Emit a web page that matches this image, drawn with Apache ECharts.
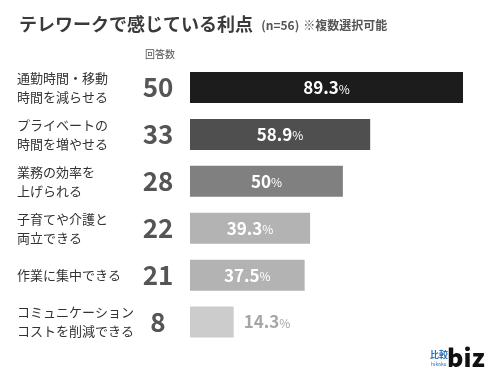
<!DOCTYPE html>
<html><head><meta charset="utf-8">
<script src="https://cdn.jsdelivr.net/npm/echarts@6/dist/echarts.min.js"></script>
<style>html,body{margin:0;padding:0;background:#fff}#c{width:490px;height:380px}</style>
</head><body><div id="c"></div>
<script>
const categories = ['通勤時間・移動\n時間を減らせる','プライベートの\n時間を増やせる','業務の効率を\n上げられる','子育てや介護と\n両立できる','作業に集中できる','コミュニケーション\nコストを削減できる'];
const counts = [50, 33, 28, 22, 21, 8];
const percents = ['89.3', '58.9', '50', '39.3', '37.5', '14.3'];
const barColors = ['#1c1c1c', '#4f4f4f', '#808080', '#b3b3b3', '#b3b3b3', '#cccccc'];
const FONT = '"Noto Sans CJK JP", "Noto Sans", sans-serif';

const chart = echarts.init(document.getElementById('c'), null, {renderer:'canvas'});
chart.setOption({
  animation: false,
  textStyle: {fontFamily: FONT},
  title: {
    left: 14, top: 10,
    text: '{a|テレワークで感じている利点}  {b|(n=56)} {c|※複数選択可能}',
    textStyle: {
      fontFamily: FONT,
      rich: {
        a: {fontSize: 18, fontWeight: 'bold', color: '#3a3a3a', fontFamily: FONT},
        b: {fontSize: 12, fontWeight: 'bold', color: '#555', fontFamily: FONT, padding: [3,0,0,0]},
        c: {fontSize: 12, fontWeight: 'bold', color: '#555', fontFamily: FONT, padding: [3,0,0,0]}
      }
    }
  },
  graphic: [
    {type: 'text', left: 145, top: 49, style: {text: '回答数', font: '10px ' + FONT, fill: '#555'}},
    {type: 'text', left: 430, top: 350, style: {text: '比較', font: 'bold 9px ' + FONT, fill: '#2a6fb8'}},
    {type: 'text', left: 431, top: 362, style: {text: 'hikaku', font: '5px ' + FONT, fill: '#2a6fb8'}},
    {type: 'text', left: 447, top: 345, style: {text: 'biz', font: '900 25px ' + FONT, fill: '#111'}}
  ],
  grid: {left: 190, right: 27, top: 64, bottom: 34.5},
  xAxis: {type: 'value', min: 0, max: 50, show: false},
  yAxis: [
    {
      type: 'category', inverse: true, data: categories,
      axisLine: {show: false}, axisTick: {show: false},
      axisLabel: {align: 'left', margin: 173, fontSize: 13, lineHeight: 19, color: '#333', fontFamily: FONT}
    },
    {
      type: 'category', inverse: true, position: 'left', data: counts.map(String),
      axisLine: {show: false}, axisTick: {show: false},
      axisLabel: {align: 'center', margin: 32, fontSize: 26, fontWeight: 'bold', color: '#555', fontFamily: FONT}
    }
  ],
  series: [{
    type: 'bar',
    yAxisIndex: 0,
    barWidth: 31,
    data: counts.map((v, i) => ({
      value: v,
      itemStyle: {color: barColors[i]},
      label: i === counts.length - 1 ? {position: 'right', distance: 10, color: '#a6a6a6'} : {}
    })),
    label: {
      show: true, position: 'inside', color: '#fff',
      formatter: p => '{n|' + percents[p.dataIndex] + '}{p|%}',
      rich: {
        n: {fontSize: 17, fontWeight: 'bold', fontFamily: FONT},
        p: {fontSize: 12, fontFamily: FONT, padding: [3,0,0,0]}
      }
    }
  }]
});
</script></body></html>
